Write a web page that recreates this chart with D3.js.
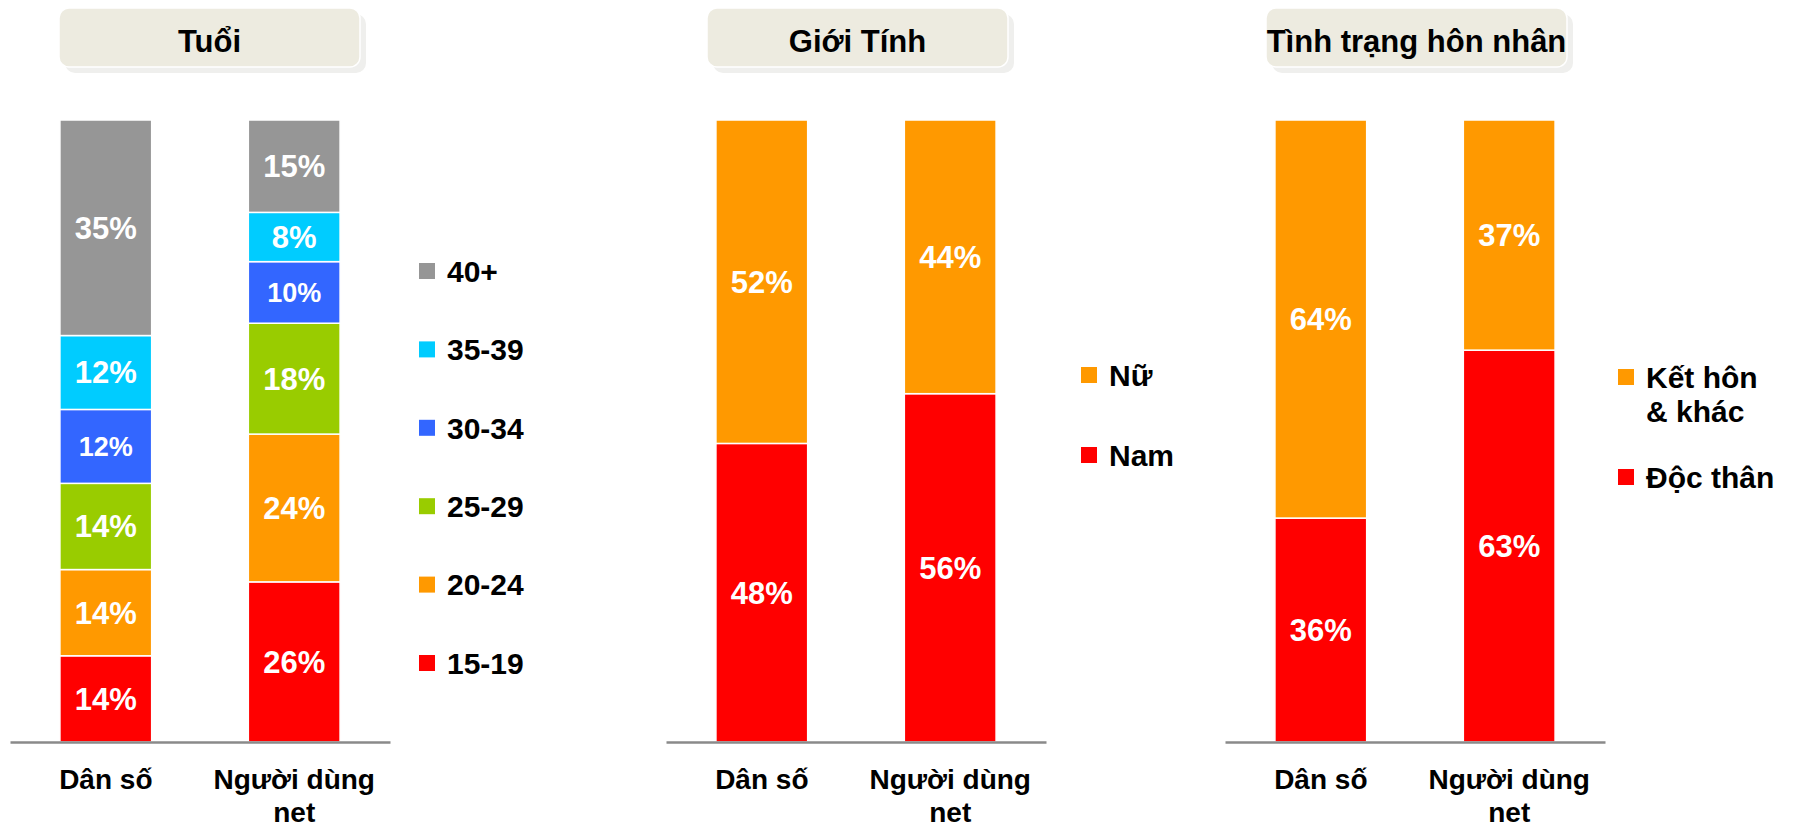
<!DOCTYPE html>
<html>
<head>
<meta charset="utf-8">
<script src="https://cdn.jsdelivr.net/npm/d3@7"></script>
<style>
  body { margin: 0; background: #fff; }
  svg text { font-family: "Liberation Sans", Arial, sans-serif; font-weight: bold; }
</style>
</head>
<body>
<div id="chart"></div>
<script>
// categories shared by all three panels
const groups = ["Dân số", "Người dùng net"];

// panel 1: tuổi
const ageKeys = ["15-19", "20-24", "25-29", "30-34", "35-39", "40+"];
const ageDanSo = [14, 14, 14, 12, 12, 35];
const ageNguoiDung = [26, 24, 18, 10, 8, 15];

// panel 2: giới tính
const genderKeys = ["Nam", "Nữ"];
const genderDanSo = [48, 52];
const genderNguoiDung = [56, 44];

// panel 3: tình trạng hôn nhân
const maritalKeys = ["Độc thân", "Kết hôn & khác"];
const maritalDanSo = [36, 64];
const maritalNguoiDung = [63, 37];

const titles = ["Tuổi", "Giới Tính", "Tình trạng hôn nhân"];

const colors = {
    "15-19": "#ff0000", "20-24": "#ff9900", "25-29": "#99cc00",
    "30-34": "#3366ff", "35-39": "#00ccff", "40+": "#969696",
    "Nam": "#ff0000", "Nữ": "#ff9900",
    "Độc thân": "#ff0000", "Kết hôn & khác": "#ff9900"
};

let w = 1799, h = 829;
let svg = d3.select("#chart").append("svg").attr("width", w).attr("height", h);

let y = d3.scaleLinear().domain([0, 1]).range([742, 120]);

let panels = [
    { title: titles[0], keys: ageKeys, vals: [ageDanSo, ageNguoiDung], x0: 10, box: 59, lx: 419, ly: 271, step: 78.4 },
    { title: titles[1], keys: genderKeys, vals: [genderDanSo, genderNguoiDung], x0: 666, box: 707, lx: 1081, ly: 375, step: 80 },
    { title: titles[2], keys: maritalKeys, vals: [maritalDanSo, maritalNguoiDung], x0: 1225, box: 1266, lx: 1618, ly: 377, step: 100 }
];

function wrap(sel, width, lineH) {
    sel.each(function() {
        let t = d3.select(this), words = t.text().split(" "), lines = [], cur = [];
        let first = t.attr("dy") || "0em";
        t.text(null);
        let probe = t.append("tspan");
        words.forEach(wd => {
            cur.push(wd);
            probe.text(cur.join(" "));
            if (probe.node().getComputedTextLength() > width && cur.length > 1) {
                cur.pop();
                lines.push(cur.join(" "));
                cur = [wd];
            }
        });
        lines.push(cur.join(" "));
        probe.remove();
        let x = t.attr("x") || 0;
        lines.forEach((ln, i) => {
            t.append("tspan").attr("x", x).attr("dy", i === 0 ? first : lineH).text(ln);
        });
        t.attr("dy", null);
    });
}

panels.forEach(p => {
    // title box
    let tb = svg.append("g");
    tb.append("rect").attr("x", p.box + 6).attr("y", 14).attr("width", 301).attr("height", 59)
        .attr("rx", 10).attr("fill", "#efefed");
    tb.append("rect").attr("x", p.box).attr("y", 8).attr("width", 301).attr("height", 59)
        .attr("rx", 10).attr("fill", "#edebe0").attr("stroke", "#fff").attr("stroke-width", 1.5);
    tb.append("text").attr("x", p.box + 150.5).attr("y", 52).attr("text-anchor", "middle")
        .style("font-size", "31px").attr("fill", "#000").text(p.title);

    let rows = groups.map((gName, i) => {
        let r = { group: gName };
        p.keys.forEach((k, j) => r[k] = p.vals[i][j]);
        return r;
    });

    let x = d3.scaleBand().domain(groups).range([0, 380]).paddingInner(0.513).paddingOuter(0.265);
    let series = d3.stack().keys(p.keys).offset(d3.stackOffsetExpand)(rows);

    let g = svg.append("g").attr("transform", `translate(${p.x0},0)`);

    let layer = g.selectAll(".layer").data(series).enter().append("g")
        .attr("fill", d => colors[d.key]);

    layer.selectAll("rect").data(d => d).enter().append("rect")
        .attr("x", d => x(d.data.group))
        .attr("width", x.bandwidth())
        .attr("y", d => y(d[1]))
        .attr("height", d => y(d[0]) - y(d[1]))
        .attr("stroke", "#fff").attr("stroke-width", 1.5);

    layer.each(function(s) {
        d3.select(this).selectAll("text").data(s).enter().append("text")
            .attr("x", d => x(d.data.group) + x.bandwidth() / 2)
            .attr("y", d => (y(d[0]) + y(d[1])) / 2)
            .attr("dy", "0.35em")
            .attr("text-anchor", "middle")
            .attr("fill", "#fff")
            .style("font-size", s.key === "30-34" ? "27px" : "31px")
            .text(d => d.data[s.key] + "%");
    });

    // baseline + category labels
    let ax = g.append("g").attr("transform", "translate(0,742)")
        .call(d3.axisBottom(x).tickSize(0).tickSizeOuter(0).tickPadding(27));
    ax.select(".domain").attr("stroke", "#8a8a8a").attr("stroke-width", 2.5);
    ax.selectAll("text").attr("fill", "#000").style("font-size", "28px")
        .attr("dy", "0.71em").call(wrap, 170, "1.2em");

    // legend, top item is last series
    let keysRev = p.keys.slice().reverse();
    let lg = svg.append("g");
    keysRev.forEach((k, i) => {
        let cy = p.ly + i * p.step;
        lg.append("rect").attr("x", p.lx).attr("y", cy - 8).attr("width", 16).attr("height", 16)
            .attr("fill", colors[k]);
        lg.append("text").attr("x", p.lx + 28).attr("y", cy).attr("dy", "0.36em")
            .style("font-size", "30px").attr("fill", "#000").text(k)
            .call(wrap, 135, "1.13em");
    });
});
</script>
</body>
</html>
